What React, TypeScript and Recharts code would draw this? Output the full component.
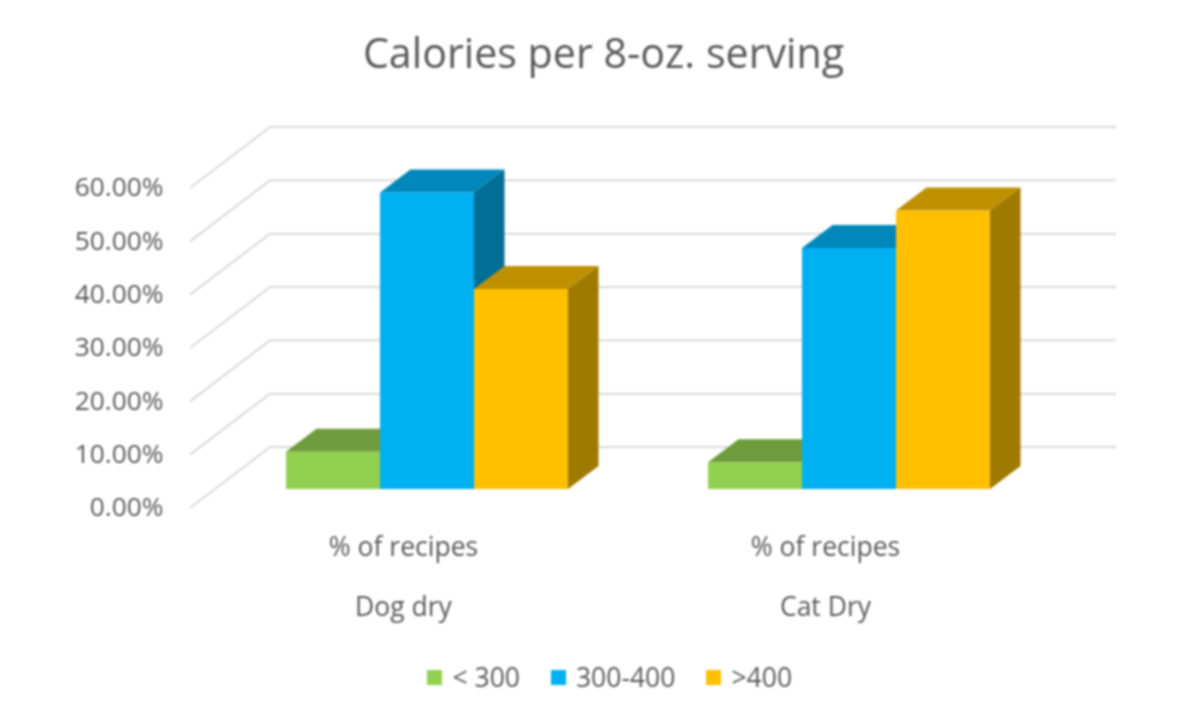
import React from "react";
import { BarChart, Bar, XAxis, YAxis, Legend, CartesianGrid } from "recharts";

const groups = ["Dog dry", "Cat Dry"];
const metrics = ["% of recipes", "% of recipes"];
const under300 = [7, 5];
const mid300to400 = [55.6, 45.2];
const over400 = [37.5, 52.2];
const yTicks = [0, 10, 20, 30, 40, 50, 60];
const titleText = "Calories per 8-oz. serving";

const data = groups.map((g, i) => ({
  group: g,
  metric: metrics[i],
  low: under300[i],
  mid: mid300to400[i],
  high: over400[i],
}));

const FONT = "'Open Sans', sans-serif";
const TEXT = "#595959";
const GRID = "#D9D9D9";
const DX = 30.5;
const DY = -23;

const make3D = (front: string, top: string, side: string) => (props: any) => {
  const { x, y, width, height } = props;
  const r = x + width;
  const b = y + height;
  return (
    <g>
      <polygon points={`${x},${y} ${x + DX},${y + DY} ${r + DX},${y + DY} ${r},${y}`} fill={top} />
      <polygon points={`${r},${y} ${r + DX},${y + DY} ${r + DX},${b + DY} ${r},${b}`} fill={side} />
      <rect x={x} y={y} width={width} height={height} fill={front} />
    </g>
  );
};

const WallLine = (props: any) => {
  const { y1 } = props;
  const backY = y1 - 42;
  const frontY = y1 + 19;
  return (
    <g key={props.key ?? `wall-${y1}`}>
      <polyline points={`190,${frontY} 270,${backY} 1116,${backY}`} fill="none" stroke={GRID} strokeWidth={2} />
    </g>
  );
};

const YTick = (props: any) => {
  const { x, y, payload } = props;
  return (
    <text x={x} y={y + 18} dy="0.36em" textAnchor="end" fontFamily={FONT} fontSize={26.3} fill={TEXT}>
      {payload.value.toFixed(2)}%
    </text>
  );
};

const XTick = (props: any) => {
  const { x, y, payload } = props;
  return (
    <text x={x - 23} y={y + 49} dy="0.36em" textAnchor="middle" fontFamily={FONT} fontSize={26.5} fill={TEXT}>
      {payload.value}
    </text>
  );
};

const LegendBox = (props: any) => (
  <div style={{ display: "flex", justifyContent: "center", paddingLeft: 160, fontFamily: FONT, fontSize: 26.5, color: TEXT, lineHeight: "34px" }}>
    {(props.payload || []).map((p: any) => (
      <div key={p.value} style={{ display: "flex", alignItems: "center", margin: "0 15.5px" }}>
        <span style={{ width: 15, height: 15, background: p.color, marginRight: 10, display: "inline-block" }} />
        <span>{p.value}</span>
      </div>
    ))}
  </div>
);

export default function App() {
  return (
    <div style={{ position: "absolute", left: 0, top: 0, width: 1200, height: 718, filter: "blur(0.8px)" }}>
      <BarChart
        width={1200}
        height={718}
        data={data}
        margin={{ top: 169, right: 140.5, bottom: 75, left: 0 }}
        barCategoryGap={70.5}
        barGap={0}
      >
        <text x={603.5} y={53} dy="0.36em" textAnchor="middle" fontFamily={FONT} fontSize={41.2} fill={TEXT}>
          {titleText}
        </text>
        <CartesianGrid vertical={false} horizontal={WallLine} />
        <YAxis
          width={215.5}
          domain={[0, 60]}
          ticks={yTicks}
          tick={<YTick />}
          tickLine={false}
          axisLine={false}
          tickSize={0}
          tickMargin={52}
          interval={0}
        />
        <XAxis xAxisId={0} dataKey="metric" height={60} axisLine={false} tickLine={false} tick={<XTick />} interval={0} allowDuplicatedCategory />
        <XAxis xAxisId={1} dataKey="group" height={60} axisLine={false} tickLine={false} tick={<XTick />} interval={0} />
        <Bar dataKey="low" name="< 300" fill="#92D050" isAnimationActive={false} shape={make3D("#92D050", "#6E9C3C", "#587D30")} />
        <Bar dataKey="mid" name="300-400" fill="#00B0F0" isAnimationActive={false} shape={make3D("#00B0F0", "#0088BA", "#006E96")} />
        <Bar dataKey="high" name=">400" fill="#FFC000" isAnimationActive={false} shape={make3D("#FFC000", "#BF9000", "#A07900")} />
        <Legend
          itemSorter={null}
          content={<LegendBox />}
          wrapperStyle={{ top: 660, bottom: "auto" }}
        />
      </BarChart>
    </div>
  );
}
